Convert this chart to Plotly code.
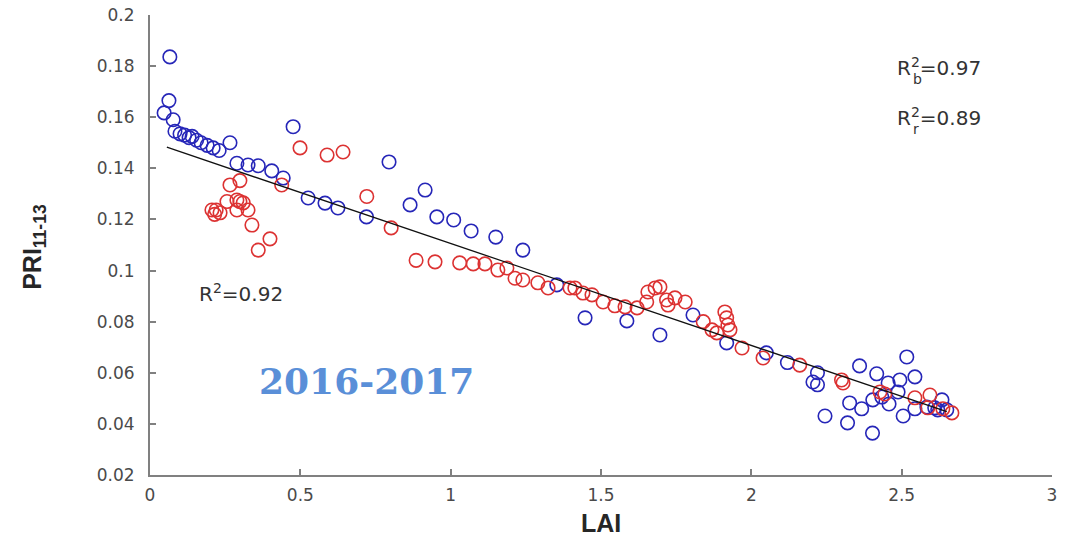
import numpy as np
import plotly.graph_objects as go

# Blue series (LAI, PRI11-13)
blue_lai = [0.066, 0.063, 0.047, 0.077, 0.083, 0.100, 0.115, 0.130, 0.140, 0.155, 0.170,
            0.190, 0.210, 0.230, 0.266, 0.289, 0.326, 0.360, 0.405, 0.443, 0.476, 0.526,
            0.582, 0.625, 0.720, 0.795, 0.865, 0.915, 0.954, 1.010, 1.068, 1.150, 1.240,
            1.353, 1.447, 1.586, 1.696, 1.806, 1.918, 2.050, 2.120, 2.220, 2.205, 2.220,
            2.245, 2.320, 2.327, 2.360, 2.367, 2.417, 2.403, 2.455, 2.494, 2.517, 2.544,
            2.404, 2.434, 2.458, 2.488, 2.505, 2.544, 2.584, 2.610, 2.634, 2.620, 2.650]
blue_pri = [0.1836, 0.1665, 0.1617, 0.1590, 0.1545, 0.1535, 0.1530, 0.1520, 0.1525, 0.1510,
            0.1500, 0.1490, 0.1480, 0.1470, 0.1500, 0.1420, 0.1413, 0.1410, 0.1390, 0.1362,
            0.1563, 0.1284, 0.1264, 0.1245, 0.1210, 0.1425, 0.1257, 0.1315, 0.1210, 0.1198,
            0.1155, 0.1131, 0.1080, 0.0944, 0.0815, 0.0803, 0.0748, 0.0826, 0.0717, 0.0678,
            0.0640, 0.0600, 0.0564, 0.0553, 0.0431, 0.0404, 0.0482, 0.0627, 0.0459, 0.0596,
            0.0364, 0.0560, 0.0572, 0.0662, 0.0584, 0.0494, 0.0505, 0.0478, 0.0525, 0.0431,
            0.0459, 0.0466, 0.0463, 0.0494, 0.0455, 0.0455]

# Red series (LAI, PRI11-13)
red_lai = [0.206, 0.220, 0.233, 0.215, 0.256, 0.289, 0.299, 0.310, 0.289, 0.326, 0.266,
           0.299, 0.339, 0.399, 0.360, 0.438, 0.499, 0.589, 0.642, 0.721, 0.802, 0.885,
           0.948, 1.030, 1.075, 1.114, 1.157, 1.187, 1.214, 1.240, 1.290, 1.324, 1.397,
           1.413, 1.440, 1.470, 1.507, 1.546, 1.580, 1.620, 1.652, 1.656, 1.680, 1.696,
           1.718, 1.723, 1.746, 1.780, 1.840, 1.869, 1.885, 1.912, 1.918, 1.922, 1.929,
           1.969, 2.039, 2.161, 2.300, 2.305, 2.428, 2.444, 2.544, 2.594, 2.587, 2.637,
           2.667]
red_pri = [0.1237, 0.1237, 0.1226, 0.1220, 0.1270, 0.1276, 0.1270, 0.1265, 0.1237, 0.1237,
           0.1335, 0.1352, 0.1178, 0.1124, 0.1080, 0.1335, 0.1480, 0.1452, 0.1464, 0.1290,
           0.1167, 0.1040, 0.1034, 0.1030, 0.1026, 0.1026, 0.1002, 0.1010, 0.0970, 0.0963,
           0.0952, 0.0932, 0.0932, 0.0932, 0.0912, 0.0905, 0.0877, 0.0862, 0.0858, 0.0854,
           0.0877, 0.0916, 0.0932, 0.0936, 0.0885, 0.0865, 0.0893, 0.0877, 0.0800, 0.0768,
           0.0756, 0.0838, 0.0815, 0.0787, 0.0768, 0.0697, 0.0658, 0.0630, 0.0572, 0.0560,
           0.0525, 0.0517, 0.0502, 0.0513, 0.0463, 0.0459, 0.0443]

# Overall linear fit PRI = intercept + slope * LAI
fit_slope = -0.0399
fit_intercept = 0.1505
fit_lai_range = [0.056, 2.65]

x_ticks = [0, 0.5, 1, 1.5, 2, 2.5, 3]
y_ticks = [0.02, 0.04, 0.06, 0.08, 0.1, 0.12, 0.14, 0.16, 0.18, 0.2]

BLUE = "#2626b8"
RED = "#dc3232"
AXIS_GREY = "#808080"
TEXT_GREY = "#4a4a4a"
LABEL_FONT = "DejaVu Sans"

fig = go.Figure()
fig.add_trace(go.Scatter(
    x=blue_lai, y=blue_pri, mode="markers",
    marker=dict(symbol="circle-open", size=13.5, color=BLUE, line=dict(width=1.6, color=BLUE)),
    showlegend=False))
fig.add_trace(go.Scatter(
    x=red_lai, y=red_pri, mode="markers",
    marker=dict(symbol="circle-open", size=13.5, color=RED, line=dict(width=1.6, color=RED)),
    showlegend=False))

fit_x = np.array(fit_lai_range)
fig.add_trace(go.Scatter(
    x=fit_x, y=fit_intercept + fit_slope * fit_x, mode="lines",
    line=dict(color="#111111", width=1.3), showlegend=False))

axis_common = dict(
    showline=True, linecolor=AXIS_GREY, linewidth=2, mirror=False,
    ticks="inside", ticklen=6, tickwidth=1.5, tickcolor=AXIS_GREY,
    showgrid=False, zeroline=False, automargin=False,
    tickfont=dict(family=LABEL_FONT, size=17, color=TEXT_GREY),
)

fig.update_xaxes(range=[0, 3], tickvals=x_ticks, ticktext=[f"{v:g}" for v in x_ticks],
                 ticklabelstandoff=4, **axis_common)
fig.update_yaxes(range=[0.02, 0.2], tickvals=y_ticks, ticktext=[f"{v:g}" for v in y_ticks],
                 ticklabelstandoff=10, **axis_common)

annotations = [
    # axis titles
    dict(text="<b>PRI<sub>11-13</sub></b>", xref="paper", yref="paper", x=-0.128, y=0.495,
         textangle=-90, showarrow=False, xanchor="center", yanchor="middle",
         font=dict(family="Liberation Sans", size=25, color="#262626")),
    dict(text="<b>LAI</b>", xref="paper", yref="paper", x=0.5, y=-0.105,
         showarrow=False, xanchor="center", yanchor="middle",
         font=dict(family="Liberation Sans", size=25, color="#262626")),
    # fit statistics
    dict(text="R<sup>2</sup>=0.92", xref="x", yref="y", x=0.155, y=0.0912,
         showarrow=False, xanchor="left", yanchor="middle",
         font=dict(family=LABEL_FONT, size=20, color="#333333")),
    dict(text="R<sup>2</sup>=0.97", xref="x", yref="y", x=2.478, y=0.1797,
         showarrow=False, xanchor="left", yanchor="middle",
         font=dict(family=LABEL_FONT, size=20, color="#333333")),
    dict(text="b", xref="x", yref="y", x=2.530, y=0.1750,
         showarrow=False, xanchor="left", yanchor="middle",
         font=dict(family=LABEL_FONT, size=14, color="#333333")),
    dict(text="R<sup>2</sup>=0.89", xref="x", yref="y", x=2.478, y=0.1602,
         showarrow=False, xanchor="left", yanchor="middle",
         font=dict(family=LABEL_FONT, size=20, color="#333333")),
    dict(text="r", xref="x", yref="y", x=2.530, y=0.1555,
         showarrow=False, xanchor="left", yanchor="middle",
         font=dict(family=LABEL_FONT, size=14, color="#333333")),
    # season label
    dict(text="<b>2016-2017</b>", xref="x", yref="y", x=0.72, y=0.0567,
         showarrow=False, xanchor="center", yanchor="middle",
         font=dict(family="DejaVu Serif", size=36, color="#5a8fd8")),
]

fig.update_layout(
    width=1069, height=540,
    margin=dict(l=150, r=17, t=15, b=65),
    paper_bgcolor="white", plot_bgcolor="white",
    annotations=annotations,
)

fig.write_html("out.html")
